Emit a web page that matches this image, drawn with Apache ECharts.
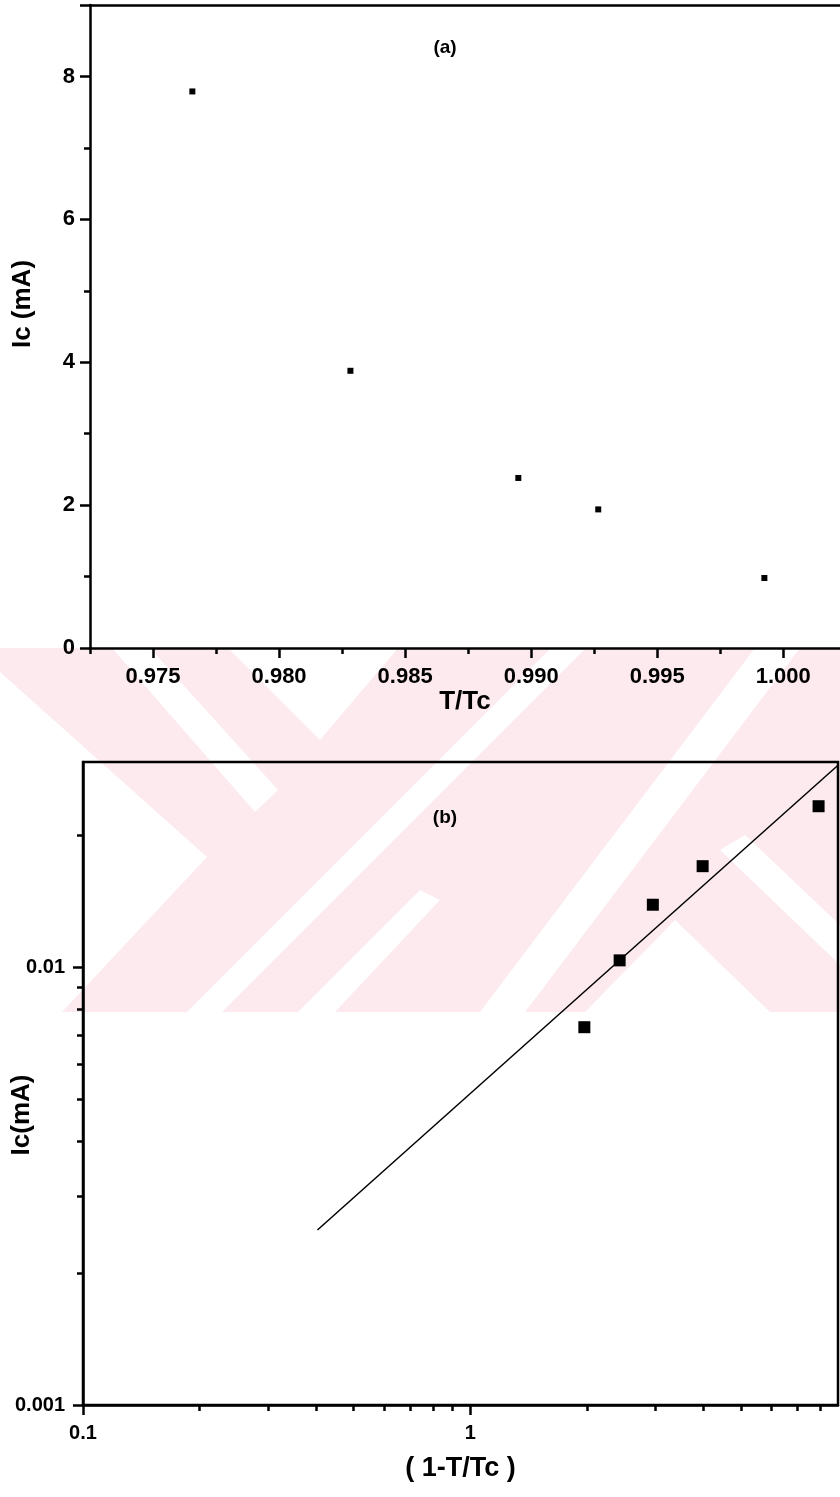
<!DOCTYPE html>
<html>
<head>
<meta charset="utf-8">
<script src="https://cdn.jsdelivr.net/npm/echarts@6/dist/echarts.min.js"></script>
<style>
  html, body { margin: 0; padding: 0; background: #fff; }
  #chart { width: 840px; height: 1497px; }
</style>
</head>
<body>
<div id="chart"></div>
<script>
// (a) critical current vs reduced temperature
const ratioT = [0.97656, 0.98283, 0.98949, 0.99266, 0.99925];
const currentA = [7.79, 3.88, 2.38, 1.94, 0.98];
const ticksAx = [0.975, 0.980, 0.985, 0.990, 0.995, 1.000];
const minorAx = [0.9725, 0.9775, 0.9825, 0.9875, 0.9925, 0.9975];

// (b) log-log, Ic vs (1-T/Tc)
const reducedT = [1.97, 2.43, 2.96, 3.98, 7.93];
const currentB = [0.00729, 0.01036, 0.01388, 0.0170, 0.0233];
const fitX = [0.403, 8.9];
const fitY = [0.00251, 0.0289];
const ticksBx = [0.1, 1];
const minorBx = [0.2, 0.3, 0.4, 0.5, 0.6, 0.7, 0.8, 0.9, 2, 3, 4, 5, 6, 7, 8];
const ticksBy = [0.001, 0.01];
const minorBy = [0.002, 0.003, 0.004, 0.005, 0.006, 0.007, 0.008, 0.009, 0.02];

const FONT = 'Liberation Sans, Arial, sans-serif';
const INK = '#000';
const PINK = '#fdeaee';

let chart = echarts.init(document.getElementById('chart'));

const lbl = (size) => ({ color: INK, fontFamily: FONT, fontSize: size, fontWeight: 'bold' });
const tickStyle = { color: INK, width: 2.5 };
const line = { lineStyle: { color: INK, width: 2.5 } };

// thesis watermark band behind the plots
const band = [
    { type: 'rect', shape: { x: 0, y: 648, width: 840, height: 364 }, style: { fill: PINK } },
    { type: 'polygon', shape: { points: [[0, 672], [207, 857], [62, 1012], [0, 1012]] }, style: { fill: '#fff' } },
    { type: 'polygon', shape: { points: [[112, 648], [150, 648], [278, 790], [255, 812]] }, style: { fill: '#fff' } },
    { type: 'polygon', shape: { points: [[228, 648], [398, 648], [320, 740]] }, style: { fill: '#fff' } },
    { type: 'polygon', shape: { points: [[187, 1012], [222, 1012], [586, 648], [551, 648]] }, style: { fill: '#fff' } },
    { type: 'polygon', shape: { points: [[298, 1012], [335, 1012], [440, 900], [420, 890]] }, style: { fill: '#fff' } },
    { type: 'polygon', shape: { points: [[480, 1012], [525, 1012], [800, 648], [755, 648]] }, style: { fill: '#fff' } },
    { type: 'polygon', shape: { points: [[585, 1012], [675, 920], [770, 1012]] }, style: { fill: '#fff' } },
    { type: 'polygon', shape: { points: [[720, 850], [745, 835], [840, 925], [840, 965]] }, style: { fill: '#fff' } }
].map(e => Object.assign(e, { z: -10, silent: true }));

const texts = [
    { type: 'text', x: 445, y: 48, style: { text: '(a)', fill: INK, font: 'bold 19px ' + FONT, align: 'center', verticalAlign: 'middle' } },
    { type: 'text', x: 445, y: 818, style: { text: '(b)', fill: INK, font: 'bold 19px ' + FONT, align: 'center', verticalAlign: 'middle' } },
    { type: 'text', x: 23, y: 304, rotation: Math.PI / 2, style: { text: 'Ic (mA)', fill: INK, font: 'bold 26px ' + FONT, align: 'center', verticalAlign: 'middle' } },
    { type: 'text', x: 22, y: 1115, rotation: Math.PI / 2, style: { text: 'Ic(mA)', fill: INK, font: 'bold 26px ' + FONT, align: 'center', verticalAlign: 'middle' } }
];

chart.setOption({
    animation: false,
    backgroundColor: '#fff',
    graphic: band.concat(texts),
    grid: [
        { left: 90, top: 5, right: 0, bottom: 849 },
        { left: 83, top: 762, right: 2, bottom: 92, show: true, borderColor: INK, borderWidth: 2.5 }
    ],
    xAxis: [
        {
            type: 'value', gridIndex: 0, position: 'bottom', min: 0.9725, max: 1.00225,
            name: 'T/Tc', nameLocation: 'middle', nameGap: 38,
            nameTextStyle: { color: INK, fontFamily: FONT, fontSize: 26, fontWeight: 'bold' },
            axisLine: line, splitLine: { show: false },
            axisTick: { length: 10, customValues: ticksAx, lineStyle: tickStyle },
            axisLabel: Object.assign(lbl(22), { margin: 18, customValues: ticksAx, formatter: v => v.toFixed(3) })
        },
        {
            type: 'value', gridIndex: 0, position: 'bottom', min: 0.9725, max: 1.00225,
            axisLine: { show: false }, splitLine: { show: false }, axisLabel: { show: false },
            axisTick: { length: 6, customValues: minorAx, lineStyle: tickStyle }
        },
        {
            // top frame of panel (a)
            type: 'value', gridIndex: 0, position: 'top', min: 0.9725, max: 1.00225,
            axisLine: line, splitLine: { show: false }, axisLabel: { show: false }, axisTick: { show: false }
        },
        {
            type: 'log', logBase: 10, gridIndex: 1, position: 'bottom', min: 0.1, max: 8.9,
            name: '( 1-T/Tc )', nameLocation: 'middle', nameGap: 50,
            nameTextStyle: { color: INK, fontFamily: FONT, fontSize: 27, fontWeight: 'bold' },
            axisLine: line, splitLine: { show: false },
            axisTick: { length: 10, customValues: ticksBx, lineStyle: tickStyle },
            axisLabel: Object.assign(lbl(20), { margin: 18, customValues: ticksBx, formatter: v => String(+v.toPrecision(3)) })
        },
        {
            type: 'log', logBase: 10, gridIndex: 1, position: 'bottom', min: 0.1, max: 8.9,
            axisLine: { show: false }, splitLine: { show: false }, axisLabel: { show: false },
            axisTick: { length: 6, customValues: minorBx, lineStyle: tickStyle }
        }
    ],
    yAxis: [
        {
            type: 'value', gridIndex: 0, position: 'left', min: 0, max: 9, interval: 2,
            axisLine: line, splitLine: { show: false },
            axisTick: { length: 10, lineStyle: tickStyle },
            minorTick: { show: true, splitNumber: 2, length: 6, lineStyle: tickStyle },
            axisLabel: Object.assign(lbl(22), { margin: 15, showMaxLabel: false })
        },
        {
            type: 'log', logBase: 10, gridIndex: 1, position: 'left', min: 0.001, max: 0.0294,
            axisLine: line, splitLine: { show: false },
            axisTick: { length: 10, customValues: ticksBy, lineStyle: tickStyle },
            axisLabel: Object.assign(lbl(20), { margin: 18, customValues: ticksBy, formatter: v => String(+v.toPrecision(3)) })
        },
        {
            type: 'log', logBase: 10, gridIndex: 1, position: 'left', min: 0.001, max: 0.0294,
            axisLine: { show: false }, splitLine: { show: false }, axisLabel: { show: false },
            axisTick: { length: 6, customValues: minorBy, lineStyle: tickStyle }
        }
    ],
    series: [
        {
            type: 'scatter', xAxisIndex: 0, yAxisIndex: 0,
            symbol: 'rect', symbolSize: 6, itemStyle: { color: INK, opacity: 1 },
            data: ratioT.map((x, i) => [x, currentA[i]])
        },
        {
            type: 'line', xAxisIndex: 3, yAxisIndex: 1,
            showSymbol: false, lineStyle: { color: INK, width: 1.5 },
            data: fitX.map((x, i) => [x, fitY[i]])
        },
        {
            type: 'scatter', xAxisIndex: 3, yAxisIndex: 1,
            symbol: 'rect', symbolSize: 12, itemStyle: { color: INK, opacity: 1 },
            data: reducedT.map((x, i) => [x, currentB[i]])
        }
    ]
});
</script>
</body>
</html>
